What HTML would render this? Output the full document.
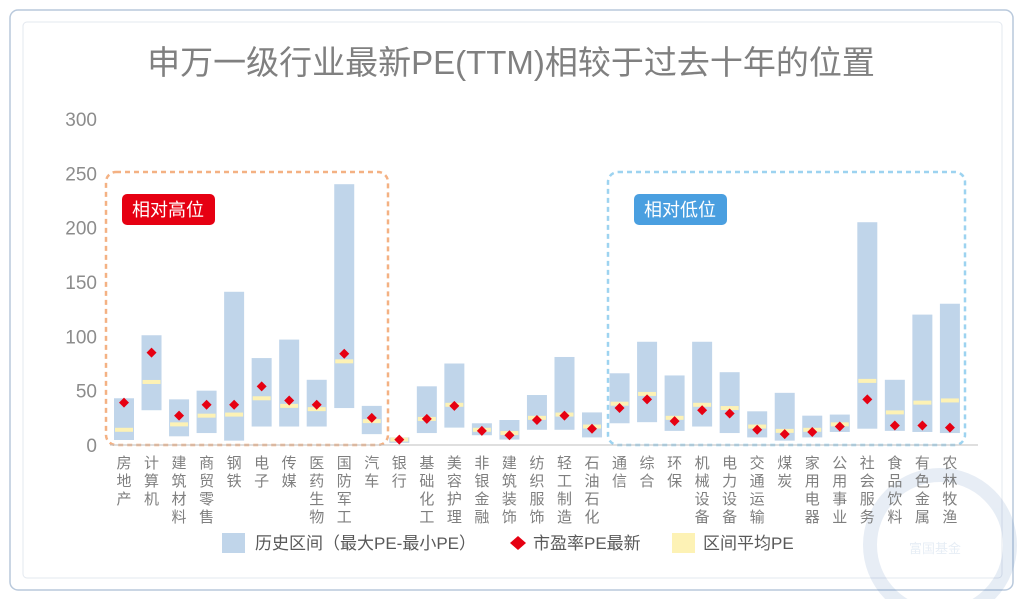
<!DOCTYPE html>
<html><head><meta charset="utf-8"><style>
body{margin:0;background:#fff;}
svg{display:block;font-family:"Liberation Sans","Noto Sans CJK SC",sans-serif;}
</style></head><body>
<svg id="c" width="1023" height="599" viewBox="0 0 1023 599" xmlns="http://www.w3.org/2000/svg">
<rect x="10" y="10" width="1003" height="580" rx="8" fill="#fff" stroke="#b9c9dc" stroke-width="1.5"/>
<rect x="23" y="22" width="979" height="556" rx="4" fill="#fff" stroke="#e3e8ef" stroke-width="1"/>
<g opacity="0.12"><circle cx="940" cy="545" r="70" fill="none" stroke="#3a6fb0" stroke-width="14"/><text x="935" y="553" font-size="13" fill="#3a6fb0" text-anchor="middle">富国基金</text></g>
<text x="511" y="74" font-size="33" fill="#808080" text-anchor="middle">申万一级行业最新PE(TTM)相较于过去十年的位置</text>
<rect x="106" y="172" width="282" height="273" rx="10" fill="none" stroke="#f4b183" stroke-width="2.5" stroke-dasharray="5,4"/>
<rect x="608" y="172" width="357" height="273" rx="10" fill="none" stroke="#9dd3f0" stroke-width="2.5" stroke-dasharray="5,4"/>
<rect x="122" y="194" width="93" height="31" rx="5" fill="#e60012"/>
<text x="168" y="216" font-size="18" fill="#fff" text-anchor="middle">相对高位</text>
<rect x="634" y="194" width="93" height="31" rx="5" fill="#4a9fe0"/>
<text x="680" y="216" font-size="18" fill="#fff" text-anchor="middle">相对低位</text>
<g id="yaxis"></g><g id="marks"></g><g id="xlabels"></g>
<line x1="110" y1="445" x2="978" y2="445" stroke="#bfbfbf" stroke-width="1"/>
<g>
<rect x="222" y="533" width="23" height="20" fill="#c0d5ea"/>
<text x="255" y="549" font-size="17" fill="#595959">历史区间（最大PE-最小PE）</text>
<path d="M518 536 L526 543 L518 550 L510 543 Z" fill="#e60012"/>
<text x="533" y="549" font-size="17" fill="#595959">市盈率PE最新</text>
<rect x="672" y="533" width="23" height="20" fill="#fdf2b5"/>
<text x="703" y="549" font-size="17" fill="#595959">区间平均PE</text>
</g>
</svg>
<script>
const categories=["房地产","计算机","建筑材料","商贸零售","钢铁","电子","传媒","医药生物","国防军工","汽车","银行","基础化工","美容护理","非银金融","建筑装饰","纺织服饰","轻工制造","石油石化","通信","综合","环保","机械设备","电力设备","交通运输","煤炭","家用电器","公用事业","社会服务","食品饮料","有色金属","农林牧渔"];
const maxPE=[43,101,42,50,141,80,97,60,240,36,7,54,75,20,23,46,81,30,66,95,64,95,67,31,48,27,28,205,60,120,130];
const minPE=[4.6,32,8,11,4,17,17,17,34,10,2,11,16,9,5,14,14,7,20,21,13,17,11,7,4,7,12,15,13,12,11];
const latestPE=[39,85,27,37,37,54,41,37,84,25,5,24,36,13,9,23,27,15,34,42,22,32,29,14,10,12,17,42,18,18,16];
const avgPE=[14,58,19,27,28,43,36,33,77,22,5,24,37,14,11,25,28,17,38,47,25,37,34,17,13,14,19,59,30,39,41];
const yTicks=[0,50,100,150,200,250,300];
const NS="http://www.w3.org/2000/svg";
const y=v=>445-v*(326/300);
const x=i=>124+i*27.53;
function mk(t,a,p){const e=document.createElementNS(NS,t);for(const k in a)e.setAttribute(k,a[k]);p.appendChild(e);return e;}
const ya=document.getElementById('yaxis');
yTicks.forEach(t=>{const e=mk('text',{x:97,y:y(t)+7,'font-size':19,fill:'#8c8c8c','text-anchor':'end'},ya);e.textContent=t;

});
const m=document.getElementById('marks'),xl=document.getElementById('xlabels');
categories.forEach((c,i)=>{
const cx=x(i);
const b=mk('rect',{x:cx-10,y:y(maxPE[i]),width:20,height:y(minPE[i])-y(maxPE[i]),fill:'#c0d5ea'},m);


const a=mk('rect',{x:cx-9,y:y(avgPE[i])-2,width:18,height:4,fill:'#fdf2b5'},m);


const yy=y(latestPE[i]);
const d=mk('path',{d:`M${cx} ${yy-5} L${cx+5} ${yy} L${cx} ${yy+5} L${cx-5} ${yy} Z`,fill:'#e60012'},m);


const g=mk('g',{},xl);


[...c].forEach((ch,j)=>{const t=mk('text',{x:cx,y:468+j*18,'font-size':15,fill:'#7f7f7f','text-anchor':'middle'},g);t.textContent=ch;});
});
</script>
</body></html>
